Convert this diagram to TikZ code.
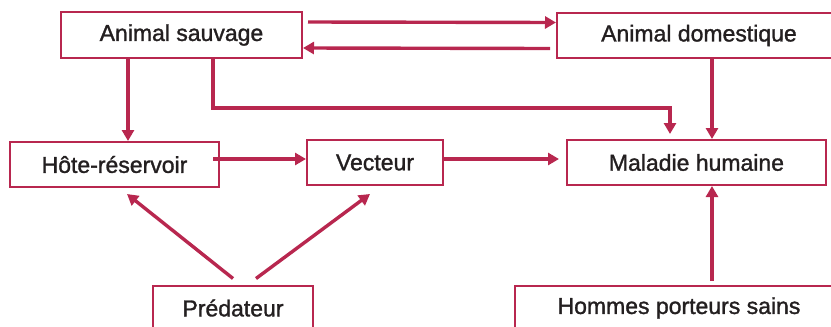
\documentclass[tikz,border=0pt]{standalone}
\usepackage{fontspec}
\usepackage{tikz}
\usetikzlibrary{arrows.meta}
\newfontfamily\boxfont[BoldFont=Liberation Sans, BoldFeatures={FakeBold=1.3}]{Liberation Sans}
\definecolor{crimson}{HTML}{B8274F}
\definecolor{ink}{HTML}{231F20}
\tikzset{
    entity/.style={draw=crimson, line width=1pt, rectangle, text=ink,
        font=\boxfont\bfseries\fontsize{11.5}{13}\selectfont, inner sep=0pt},
    link/.style={draw=crimson, line width=1.7pt,
        -{Triangle[length=5.5pt,width=6pt]}}
}

\begin{document}
\begin{tikzpicture}[x=0.5pt, y=-0.5pt]
        \useasboundingbox (0, 0) rectangle (831, 327);
        \clip (0, 0) rectangle (831, 327);
        % boxes
        \node[entity, minimum width=120.5pt, minimum height=23pt] (sauvage) at (181.5, 35) {Animal sauvage};
        \node[entity, minimum width=142pt, minimum height=22.5pt] (domestique) at (699, 35.5) {Animal domestique};
        \node[entity, minimum width=104.5pt, minimum height=22.5pt] (reservoir) at (114.5, 164.5) {Hôte-réservoir};
        \node[entity, minimum width=68pt, minimum height=22.5pt] (vecteur) at (375, 162.5) {Vecteur};
        \node[entity, minimum width=129.5pt, minimum height=22.5pt] (maladie) at (696.5, 162.5) {Maladie humaine};
        \node[entity, minimum width=80pt, minimum height=22.5pt] (predateur) at (233, 308) {Prédateur};
        \node[entity, minimum width=164pt, minimum height=22.5pt] (hommes) at (679, 308) {Hommes porteurs sains};
        \coordinate (left drop) at (128, 0);
        \coordinate (right drop) at (712, 0);
        \coordinate (carrier) at (712, 281);
        % arrows
        \draw[link] ([xshift=2.5pt, yshift=6.5pt]sauvage.east) -- ([yshift=6.5pt]domestique.west);
        \draw[link] ([xshift=-3pt, yshift=-6.5pt]domestique.west) -- ([yshift=-6.5pt]sauvage.east);
        \draw[link] (sauvage.south -| left drop) -- (reservoir.north -| left drop);
        \draw[link] ([xshift=15.75pt]sauvage.south) -- ++(0, 49) -| ([xshift=-13.25pt, yshift=2.5pt]maladie.north);
        \draw[link] (domestique.south -| right drop) -- (maladie.north -| right drop);
        \draw[link] ([xshift=-3.5pt, yshift=2.75pt]reservoir.east) -- ([yshift=1.75pt]vecteur.west);
        \draw[link] ([yshift=1.75pt]vecteur.east) -- ([xshift=-3.5pt, yshift=1.75pt]maladie.west);
        \draw[link] ([yshift=3pt]predateur.north) -- ([xshift=6.25pt, yshift=-3pt]reservoir.south);
        \draw[link] ([xshift=11.5pt, yshift=3pt]predateur.north) -- ([xshift=-2.5pt, yshift=-4pt]vecteur.south);
        \draw[link] (carrier) -- (maladie.south -| carrier);
    \end{tikzpicture}
\end{document}
